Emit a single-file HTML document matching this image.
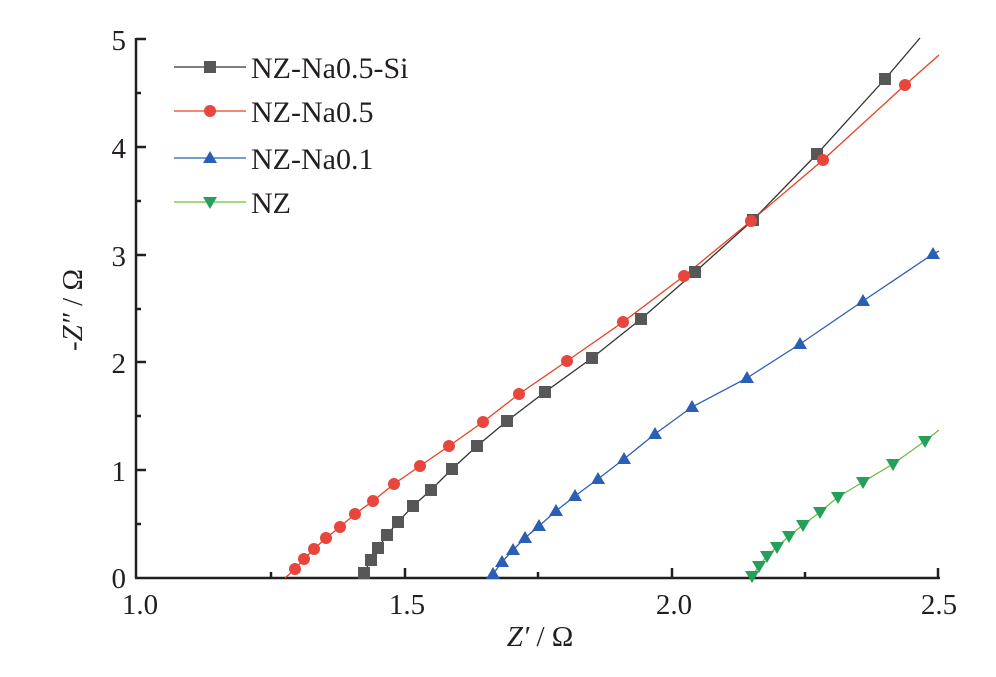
<!DOCTYPE html>
<html><head><meta charset="utf-8"><style>
html,body{margin:0;padding:0;background:#fff;}
svg{display:block;}
text{font-family:"Liberation Serif",serif;fill:#231f20;}
</style></head><body>
<svg width="996" height="677" viewBox="0 0 996 677" xmlns="http://www.w3.org/2000/svg">
<g stroke="#231f20" stroke-width="2.5" fill="none">
<line x1="136" y1="38" x2="136" y2="578"/>
<line x1="135" y1="578" x2="940" y2="578"/>
<line x1="136" y1="470" x2="146" y2="470"/><line x1="136" y1="362" x2="146" y2="362"/>
<line x1="136" y1="255" x2="146" y2="255"/><line x1="136" y1="147" x2="146" y2="147"/>
<line x1="136" y1="39" x2="146" y2="39"/>
<line x1="136" y1="524" x2="141" y2="524"/><line x1="136" y1="416" x2="141" y2="416"/>
<line x1="136" y1="309" x2="141" y2="309"/><line x1="136" y1="201" x2="141" y2="201"/>
<line x1="136" y1="93" x2="141" y2="93"/>
<line x1="405" y1="578" x2="405" y2="568"/><line x1="672" y1="578" x2="672" y2="568"/>
<line x1="938" y1="578" x2="938" y2="568"/>
<line x1="271" y1="578" x2="271" y2="572"/><line x1="538" y1="578" x2="538" y2="572"/>
<line x1="805" y1="578" x2="805" y2="572"/>
</g>
<g font-size="29" text-anchor="end">
<text x="126" y="588">0</text><text x="126" y="481">1</text><text x="126" y="373">2</text>
<text x="126" y="266">3</text><text x="126" y="158">4</text><text x="126" y="50">5</text>
</g>
<g font-size="29" text-anchor="middle">
<text x="140" y="614">1.0</text><text x="407" y="614">1.5</text>
<text x="674" y="614">2.0</text><text x="939" y="614">2.5</text>
<text x="540" y="646"><tspan font-style="italic">Z′</tspan> / Ω</text>
</g>
<text transform="translate(82,310) rotate(-90)" font-size="29" text-anchor="middle"><tspan>-</tspan><tspan font-style="italic">Z″</tspan> / Ω</text>

<polyline fill="none" stroke="#333" stroke-width="1.3" points="364,578 364,573 371,560 378,548 387,535 398,522 413,506 431,490 452,469 477,446 507,421 545,392 592,358 641,319 695,272 753,220 817,154 885,79 920,38"/>
<polyline fill="none" stroke="#e8411e" stroke-width="1.3" points="285,578 295,569 304,559 314,549 326,538 340,527 355,514 373,501 394,484 420,466 449,446 483,422 519,394 567,361 623,322 684,276 751,221 823,160 905,85 939,55"/>
<polyline fill="none" stroke="#2b5fb4" stroke-width="1.3" points="492,578 493,574 502,562 513,550 525,538 539,526 556,511 575,496 598,479 624,459 655,434 692,407 747,378 800,344 863,301 933,254 939,251"/>
<polyline fill="none" stroke="#6cbf3a" stroke-width="1.3" points="751,578 752,576 759,566 767,556 777,547 789,536 803,525 820,512 838,497 863,482 893,464 925,441 939,430"/>

<g fill="#575757">
<rect x="358" y="567" width="12" height="12"/><rect x="365" y="554" width="12" height="12"/><rect x="372" y="542" width="12" height="12"/><rect x="381" y="529" width="12" height="12"/><rect x="392" y="516" width="12" height="12"/><rect x="407" y="500" width="12" height="12"/><rect x="425" y="484" width="12" height="12"/><rect x="446" y="463" width="12" height="12"/><rect x="471" y="440" width="12" height="12"/><rect x="501" y="415" width="12" height="12"/><rect x="539" y="386" width="12" height="12"/><rect x="586" y="352" width="12" height="12"/><rect x="635" y="313" width="12" height="12"/><rect x="689" y="266" width="12" height="12"/><rect x="747" y="214" width="12" height="12"/><rect x="811" y="148" width="12" height="12"/><rect x="879" y="73" width="12" height="12"/>
</g>
<g fill="#e8453c">
<circle cx="295" cy="569" r="6"/><circle cx="304" cy="559" r="6"/><circle cx="314" cy="549" r="6"/><circle cx="326" cy="538" r="6"/><circle cx="340" cy="527" r="6"/><circle cx="355" cy="514" r="6"/><circle cx="373" cy="501" r="6"/><circle cx="394" cy="484" r="6"/><circle cx="420" cy="466" r="6"/><circle cx="449" cy="446" r="6"/><circle cx="483" cy="422" r="6"/><circle cx="519" cy="394" r="6"/><circle cx="567" cy="361" r="6"/><circle cx="623" cy="322" r="6"/><circle cx="684" cy="276" r="6"/><circle cx="751" cy="221" r="6"/><circle cx="823" cy="160" r="6"/><circle cx="905" cy="85" r="6"/>
</g>
<g fill="#2b5fb4">
<path d="M493,567 l7,12 h-14z M502,555 l7,12 h-14z M513,543 l7,12 h-14z M525,531 l7,12 h-14z M539,519 l7,12 h-14z M556,504 l7,12 h-14z M575,489 l7,12 h-14z M598,472 l7,12 h-14z M624,452 l7,12 h-14z M655,427 l7,12 h-14z M692,400 l7,12 h-14z M747,371 l7,12 h-14z M800,337 l7,12 h-14z M863,294 l7,12 h-14z M933,247 l7,12 h-14z"/>
</g>
<g fill="#25a05a">
<path d="M752,583 l7,-12 h-14z M759,573 l7,-12 h-14z M767,563 l7,-12 h-14z M777,554 l7,-12 h-14z M789,543 l7,-12 h-14z M803,532 l7,-12 h-14z M820,519 l7,-12 h-14z M838,504 l7,-12 h-14z M863,489 l7,-12 h-14z M893,471 l7,-12 h-14z M925,448 l7,-12 h-14z"/>
</g>

<g stroke-width="1.3">
<line x1="174" y1="67" x2="246" y2="67" stroke="#333"/>
<line x1="174" y1="111" x2="246" y2="111" stroke="#e8411e"/>
<line x1="174" y1="158" x2="246" y2="158" stroke="#2b5fb4"/>
<line x1="174" y1="202" x2="246" y2="202" stroke="#6cbf3a"/>
</g>
<rect x="204" y="61" width="12" height="12" fill="#575757"/>
<circle cx="210" cy="111" r="6" fill="#e8453c"/>
<path d="M210,151 l7,12 h-14z" fill="#2b5fb4"/>
<path d="M210,209 l7,-12 h-14z" fill="#25a05a"/>
<g font-size="30">
<text x="251" y="78">NZ-Na0.5-Si</text>
<text x="251" y="122">NZ-Na0.5</text>
<text x="251" y="169">NZ-Na0.1</text>
<text x="251" y="213">NZ</text>
</g>
</svg>
</body></html>
